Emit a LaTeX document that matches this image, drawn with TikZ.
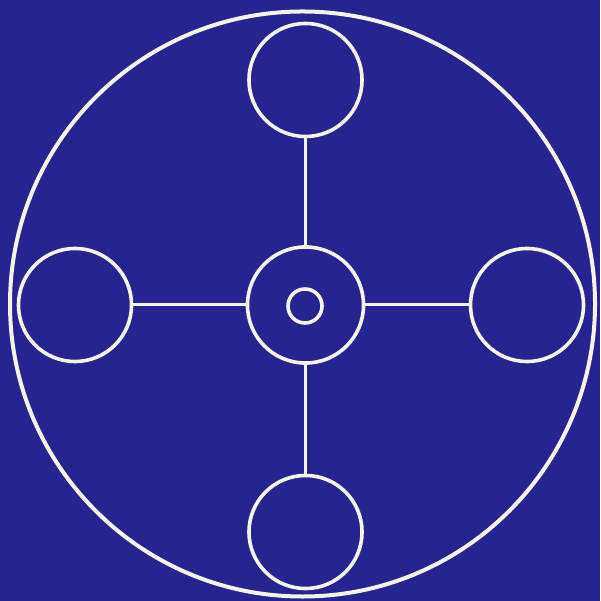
\documentclass[tikz,border=0pt]{standalone}
\usepackage{tikz}
\definecolor{plate}{RGB}{38,36,142}
\definecolor{chalk}{RGB}{245,242,232}

\begin{document}
\begin{tikzpicture}[x=0.01cm, y=-0.01cm,
	ring/.style={circle, draw=chalk, line width=0.036cm, inner sep=0pt, minimum size=1.13cm},
	spoke/.style={draw=chalk, line width=0.03cm}]
	\fill[plate] (0,0) rectangle (600,601);
	\useasboundingbox (0,0) rectangle (600,601);
	\draw[chalk, line width=0.04cm] (302.5,304) circle (292.5);
	\node[ring, minimum size=1.16cm] (hub) at (305.5,305) {};
	\node[ring, minimum size=0.34cm] (eye) at (305,306) {};
	\node[ring] (north) at (305.5,80) {};
	\node[ring] (south) at (305.5,532) {};
	\node[ring] (west) at (75,305) {};
	\node[ring] (east) at (527,305) {};
	\draw[spoke] (hub) -- (north);
	\draw[spoke] (hub) -- (south);
	\draw[spoke] (hub) -- (west);
	\draw[spoke] (hub) -- (east);
\end{tikzpicture}
\end{document}
